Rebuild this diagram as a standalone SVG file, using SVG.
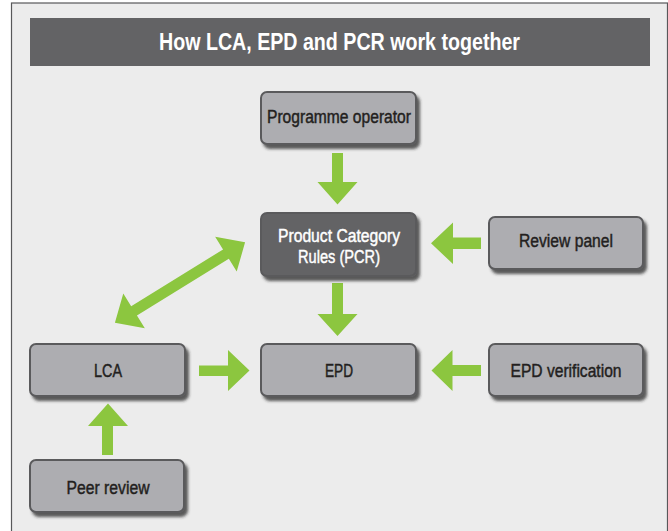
<svg xmlns="http://www.w3.org/2000/svg" width="668" height="531" viewBox="0 0 668 531">
  <defs>
    <filter id="shadow" x="-10%" y="-20%" width="130%" height="150%">
      <feDropShadow dx="3" dy="4" stdDeviation="1.8" flood-color="#2a2a2a" flood-opacity="0.75"/>
    </filter>
    <style>
      .frame { fill: #ececec; stroke: #58585a; stroke-width: 1.2; }
      .title-bar { fill: #636365; }
      .title { font-family: "Liberation Sans", Arial, sans-serif; font-size: 24px; font-weight: bold; fill: #ffffff; }
      .box { fill: #adadb1; stroke: #5a5a5c; stroke-width: 2; filter: url(#shadow); }
      .box.dark { fill: #636365; }
      .label { font-family: "Liberation Sans", Arial, sans-serif; font-size: 18px; fill: #231f20; stroke: #231f20; stroke-width: 0.45; text-anchor: middle; }
      .label.light { fill: #ffffff; stroke: #ffffff; }
      .arrow { fill: #8cc63f; }
    </style>
  </defs>

  <!-- page background and frame -->
  <rect x="0" y="0" width="668" height="531" fill="#ffffff"/>
  <rect class="frame" x="11.5" y="3" width="656" height="540"/>

  <!-- heading -->
  <g id="title">
    <rect class="title-bar" x="30" y="18" width="620" height="48"/>
    <text class="title" x="159" y="50" textLength="361" lengthAdjust="spacingAndGlyphs">How LCA, EPD and PCR work together</text>
  </g>

  <!-- connectors -->
  <g id="connectors" class="arrow">
    <!-- Programme operator -> PCR -->
    <polygon points="332,153 343,153 343,182 357.5,182 337.5,204.5 317.5,182 332,182"/>
    <!-- Review panel -> PCR -->
    <polygon points="481,237.5 481,249 453,249 453,264 431,243.3 453,222.5 453,237.5"/>
    <!-- PCR -> EPD -->
    <polygon points="332,283 343,283 343,314 357.5,314 337.5,336 317.5,314 332,314"/>
    <!-- LCA -> EPD -->
    <polygon points="199,365.5 228,365.5 228,350 249.5,370.5 228,391 228,376 199,376"/>
    <!-- EPD verification -> EPD -->
    <polygon points="481,365 481,376 452.5,376 452.5,391 431.5,370.5 452.5,350 452.5,365"/>
    <!-- Peer review -> LCA -->
    <polygon points="102,455 113,455 113,426 128,426 108,403.5 88,426 102,426"/>
    <!-- LCA <-> PCR (two-way) -->
    <polygon transform="translate(180 282.5) rotate(-31.7)" points="-76.5,0 -54,-20.5 -54,-5.5 54,-5.5 54,-20.5 76.5,0 54,20.5 54,5.5 -54,5.5 -54,20.5"/>
  </g>

  <!-- nodes -->
  <g id="programme-operator">
    <rect class="box" x="261" y="92" width="155" height="52" rx="6"/>
    <text class="label" x="339" y="123" textLength="144" lengthAdjust="spacingAndGlyphs">Programme operator</text>
  </g>

  <g id="pcr">
    <rect class="box dark" x="261" y="213" width="155" height="63" rx="6"/>
    <text class="label light" x="339" y="242" textLength="122" lengthAdjust="spacingAndGlyphs">Product Category</text>
    <text class="label light" x="339" y="263" textLength="82" lengthAdjust="spacingAndGlyphs">Rules (PCR)</text>
  </g>

  <g id="review-panel">
    <rect class="box" x="489" y="217" width="154" height="52" rx="6"/>
    <text class="label" x="566" y="247" textLength="94" lengthAdjust="spacingAndGlyphs">Review panel</text>
  </g>

  <g id="lca">
    <rect class="box" x="30" y="344" width="155" height="52" rx="6"/>
    <text class="label" x="108" y="377" textLength="28" lengthAdjust="spacingAndGlyphs">LCA</text>
  </g>

  <g id="epd">
    <rect class="box" x="261" y="344" width="155" height="52" rx="6"/>
    <text class="label" x="339" y="377" textLength="28" lengthAdjust="spacingAndGlyphs">EPD</text>
  </g>

  <g id="epd-verification">
    <rect class="box" x="489" y="344" width="154" height="52" rx="6"/>
    <text class="label" x="566" y="377" textLength="111" lengthAdjust="spacingAndGlyphs">EPD verification</text>
  </g>

  <g id="peer-review">
    <rect class="box" x="30" y="460" width="154" height="52" rx="6"/>
    <text class="label" x="108" y="494" textLength="83" lengthAdjust="spacingAndGlyphs">Peer review</text>
  </g>
</svg>
